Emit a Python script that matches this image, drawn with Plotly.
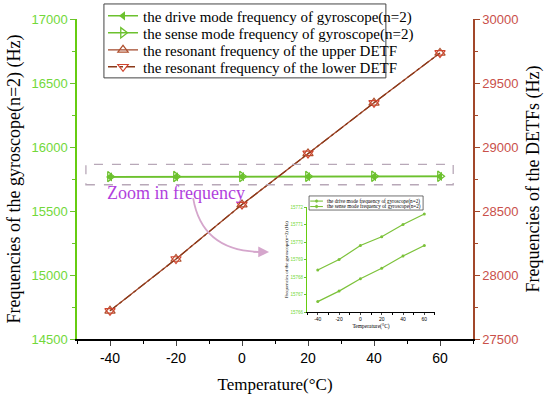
import plotly.graph_objects as go

temps = [-40, -20, 0, 20, 40, 60]
temp_labels = ["-40", "-20", "0", "20", "40", "60"]
drive_freq = [15766.6, 15767.2, 15767.9, 15768.5, 15769.2, 15769.8]
sense_freq = [15768.4, 15769.0, 15769.8, 15770.3, 15771.0, 15771.6]
upper_detf = [27720, 28125, 28550, 28950, 29345, 29735]
lower_detf = [27720, 28125, 28550, 28950, 29345, 29735]
names = ["the drive mode frequency of gyroscope(n=2)",
         "the sense mode frequency of gyroscope(n=2)",
         "the resonant frequency of the upper DETF",
         "the resonant frequency of the lower DETF"]

GREEN = "#6CC12E"
GREEN_TXT = "#72D83A"
BROWN = "#A2472A"
RED_TXT = "#C9504A"
SERIF = "Liberation Serif"
SANS = "Liberation Sans"

fig = go.Figure()

fig.add_trace(go.Scatter(x=temps, y=drive_freq, mode="lines+markers", name=names[0],
                         line=dict(color=GREEN, width=1.5),
                         marker=dict(symbol="triangle-left", size=8, color=GREEN),
                         xaxis="x", yaxis="y", legend="legend"))
fig.add_trace(go.Scatter(x=temps, y=sense_freq, mode="lines+markers", name=names[1],
                         line=dict(color=GREEN, width=1.5),
                         marker=dict(symbol="triangle-right-open", size=9, color=GREEN,
                                     line=dict(width=1.3)),
                         xaxis="x", yaxis="y", legend="legend3"))
fig.add_trace(go.Scatter(x=temps, y=upper_detf, mode="lines+markers", name=names[2],
                         line=dict(color=BROWN, width=1.3),
                         marker=dict(symbol="triangle-up-open", size=9, color="#B0502E",
                                     line=dict(width=1.2)),
                         xaxis="x", yaxis="y2", legend="legend4"))
fig.add_trace(go.Scatter(x=temps, y=lower_detf, mode="lines+markers", name=names[3],
                         line=dict(color="#8B3A1A", width=1.3, dash="dashdot"),
                         marker=dict(symbol="triangle-down-open", size=9, color="#D0452F",
                                     line=dict(width=1.2)),
                         xaxis="x", yaxis="y2", legend="legend5"))

# inset traces
fig.add_trace(go.Scatter(x=temps, y=sense_freq, mode="lines+markers", name=names[0],
                         line=dict(color="#7CC23A", width=1.2),
                         marker=dict(symbol="circle", size=3, color="#7CC23A"),
                         xaxis="x2", yaxis="y3", showlegend=False))
fig.add_trace(go.Scatter(x=temps, y=drive_freq, mode="lines+markers", name=names[1],
                         line=dict(color="#7CC23A", width=1.2),
                         marker=dict(symbol="circle", size=3, color="#7CC23A"),
                         xaxis="x2", yaxis="y3", showlegend=False))

def leg(y):
    return dict(x=0.0657, y=y, xanchor="left", yanchor="middle",
                bgcolor="rgba(0,0,0,0)", borderwidth=0,
                font=dict(family=SERIF, size=15, color="black"), itemwidth=30)

fig.update_layout(
    width=550, height=397,
    margin=dict(l=77, r=77, t=19, b=58, autoexpand=False),
    paper_bgcolor="white", plot_bgcolor="white",
    showlegend=True,
    xaxis=dict(domain=[0, 1], range=[-50, 70], tickvals=temps, ticktext=temp_labels,
               ticks="outside", ticklen=5, tickwidth=1.2, showgrid=False, zeroline=False,
               showline=True, linecolor="black", linewidth=1.5, automargin=False,
               minor=dict(dtick=10, ticklen=3, tickcolor="black", showgrid=False),
               tickfont=dict(family=SANS, size=14, color="black"),
               title=dict(text="Temperature(°C)", font=dict(family=SERIF, size=17, color="black"),
                          standoff=14)),
    yaxis=dict(range=[14500, 17000], tickvals=[14500, 15000, 15500, 16000, 16500, 17000],
               tickformat="d", ticks="outside", ticklen=5, tickwidth=1.2, tickcolor=GREEN,
               showgrid=False, zeroline=False, showline=True, linecolor="#66CC11", linewidth=1.5,
               automargin=False,
               minor=dict(dtick=250, ticklen=3, tickcolor=GREEN, showgrid=False),
               tickfont=dict(family=SANS, size=13, color=GREEN_TXT),
               title=dict(text="Frequencies of the gyroscope(n=2) (Hz)",
                          font=dict(family=SERIF, size=18, color="black"), standoff=6)),
    yaxis2=dict(range=[27500, 30000], tickvals=[27500, 28000, 28500, 29000, 29500, 30000],
                tickformat="d", overlaying="y", side="right", anchor="x",
                ticks="outside", ticklen=5, tickwidth=1.2, tickcolor=BROWN,
                showgrid=False, zeroline=False, showline=True, linecolor=BROWN, linewidth=1.5,
                automargin=False,
                minor=dict(dtick=250, ticklen=3, tickcolor=BROWN, showgrid=False),
                tickfont=dict(family=SANS, size=13, color=RED_TXT),
                title=dict(text="Frequencies of the DETFs (Hz)",
                           font=dict(family=SERIF, size=18, color="black"), standoff=9)),
    xaxis2=dict(domain=[0.581, 0.904], anchor="y3", range=[-50, 70],
                tickvals=temps, ticktext=temp_labels, ticks="outside", ticklen=2,
                showgrid=False, zeroline=False, showline=True, linecolor="black", linewidth=1,
                automargin=False,
                minor=dict(dtick=10, ticklen=1.5, tickcolor="black", showgrid=False),
                tickfont=dict(family=SANS, size=5, color="black"),
                title=dict(text="Temperature(°C)", font=dict(family=SERIF, size=5.5, color="black"),
                           standoff=3)),
    yaxis3=dict(domain=[0.084, 0.4125], anchor="x2", range=[15766, 15772],
                tickvals=[15766, 15767, 15768, 15769, 15770, 15771, 15772], tickformat="d",
                ticks="outside", ticklen=2, tickcolor=GREEN, automargin=False,
                showgrid=False, zeroline=False, showline=True, linecolor="#66CC11", linewidth=1.2,
                tickfont=dict(family=SANS, size=4.5, color=GREEN_TXT),
                title=dict(text="Frequencies of the gyroscope(n=2) (Hz)",
                           font=dict(family=SERIF, size=4.8, color="black"), standoff=1)),
    legend=leg(1.009),
    legend3=leg(0.956),
    legend4=leg(0.903),
    legend5=leg(0.850),
)

# main legend frame
fig.add_shape(type="rect", xref="paper", yref="paper", x0=0.068, x1=0.780, y0=0.816, y1=1.047,
              line=dict(color="#444", width=1), fillcolor="white", layer="below")

# inset legend frame and keys
fig.add_shape(type="rect", xref="paper", yref="paper", x0=0.586, x1=0.874, y0=0.403, y1=0.447,
              line=dict(color="#333", width=0.7), fillcolor="white", layer="above")
for yk, label in [(0.431, names[0]), (0.414, names[1])]:
    fig.add_shape(type="line", xref="paper", yref="paper", x0=0.589, x1=0.621, y0=yk, y1=yk,
                  line=dict(color="#7CC23A", width=1.1))
    fig.add_shape(type="circle", xref="paper", yref="paper", x0=0.602, x1=0.608,
                  y0=yk - 0.0045, y1=yk + 0.0045, line=dict(color="#7CC23A", width=0.5),
                  fillcolor="#7CC23A")
    fig.add_annotation(x=0.625, y=yk, xref="paper", yref="paper", text=label,
                       showarrow=False, xanchor="left", yanchor="middle",
                       font=dict(family=SERIF, size=5.2, color="black"))

# dashed zoom box
fig.add_shape(type="rect", xref="x", yref="y", x0=-47.3, x1=64, y0=15705, y1=15865,
              line=dict(color="#B8A8B8", width=1.3, dash="dash"), fillcolor="rgba(0,0,0,0)")

fig.add_annotation(x=-41.5, y=15640, xref="x", yref="y", text="Zoom in frequency",
                   showarrow=False, xanchor="left", yanchor="middle",
                   font=dict(family=SERIF, size=18, color="#B13FDD"))

# curved arrow
fig.add_shape(type="path", xref="x", yref="y",
              path="M -14.8,15600 Q -12,15170 7.0,15180",
              line=dict(color="#D5A6CC", width=1.8))
fig.add_annotation(x=8.2, y=15180, ax=3.0, ay=15180, xref="x", yref="y",
                   axref="x", ayref="y", text="", showarrow=True,
                   arrowhead=2, arrowsize=1.2, arrowwidth=1.8, arrowcolor="#D5A6CC")

fig.write_html("out.html", config={"displayModeBar": False},
               post_script="document.body.style.margin='0';document.body.style.overflow='hidden';")
